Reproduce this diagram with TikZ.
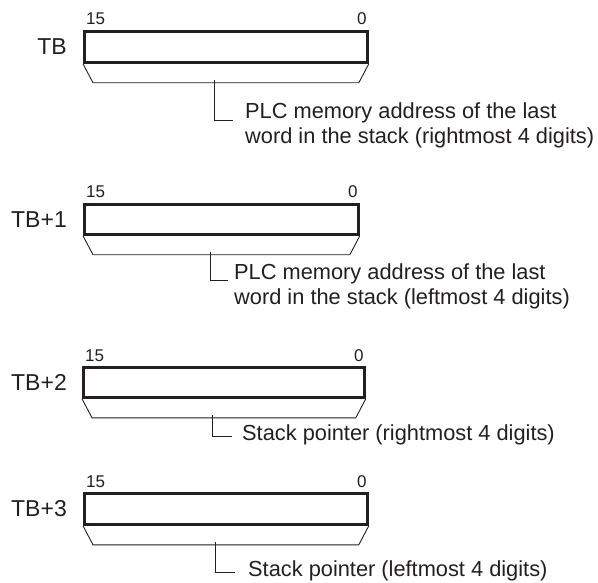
\documentclass[tikz,border=0pt]{standalone}
\usepackage{fontspec}
\setmainfont{Liberation Sans}
\usetikzlibrary{positioning}
\definecolor{ink}{HTML}{231F20}
\begin{document}
\begin{tikzpicture}[x=1pt, y=-1pt,
    reg/.style={draw=ink, line width=2.8pt, anchor=north west, inner sep=0pt},
    fan/.style={draw=ink, line width=0.9pt, line join=miter},
    lead/.style={draw=ink, line width=0.9pt},
    bit/.style={text=ink, font={\fontsize{17}{17}\selectfont}, inner sep=0pt},
    tag/.style={text=ink, font={\fontsize{23}{23}\selectfont}, inner sep=0pt},
    note/.style={text=ink, font={\fontsize{21.8}{25}\selectfont}, align=left, inner sep=0pt, anchor=north west}
]
    \useasboundingbox (0,0) rectangle (598,583);
    % TB: last word address, rightmost digits
    \node[reg, minimum width=283pt, minimum height=31pt] (r1) at (83,30) {};
    \node[tag, left=16pt of r1] (l1) {TB};
    \node[bit, anchor=base west] (h1) at ([xshift=3pt, yshift=5pt]r1.north west) {15};
    \node[bit, anchor=base east] (z1) at ([xshift=-2pt, yshift=5pt]r1.north east) {0};
    \draw[fan] (r1.south west) -- ++(10,19) -- ([shift={(-10,19)}]r1.south east) -- (r1.south east);
    \coordinate (s1) at (214,80);
    \coordinate (k1) at (233,120);
    \draw[lead] (s1) |- (k1);
    \node[note] (n1) at (245,103) {PLC memory address of the last\\word in the stack (rightmost 4 digits)};
    % TB+1: last word address, leftmost digits
    \node[reg, minimum width=274pt, minimum height=30pt] (r2) at (83,203) {};
    \node[tag, left=16pt of r2] (l2) {TB+1};
    \node[bit, anchor=base west] (h2) at ([xshift=3pt, yshift=5pt]r2.north west) {15};
    \node[bit, anchor=base east] (z2) at ([xshift=-2pt, yshift=5pt]r2.north east) {0};
    \draw[fan] (r2.south west) -- ++(10,19) -- ([shift={(-10,19)}]r2.south east) -- (r2.south east);
    \coordinate (s2) at (210,252);
    \coordinate (k2) at (228,280);
    \draw[lead] (s2) |- (k2);
    \node[note] (n2) at (234,264) {PLC memory address of the last\\word in the stack (leftmost 4 digits)};
    % TB+2: stack pointer, rightmost digits
    \node[reg, minimum width=281pt, minimum height=30pt] (r3) at (82,366) {};
    \node[tag, left=15pt of r3] (l3) {TB+2};
    \node[bit, anchor=base west] (h3) at ([xshift=3pt, yshift=5pt]r3.north west) {15};
    \node[bit, anchor=base east] (z3) at ([xshift=-2pt, yshift=5pt]r3.north east) {0};
    \draw[fan] (r3.south west) -- ++(10,19) -- ([shift={(-10,19)}]r3.south east) -- (r3.south east);
    \coordinate (s3) at (212,415);
    \coordinate (k3) at (232,436);
    \draw[lead] (s3) |- (k3);
    \node[note] (n3) at (242,425) {Stack pointer (rightmost 4 digits)};
    % TB+3: stack pointer, leftmost digits
    \node[reg, minimum width=283pt, minimum height=31pt] (r4) at (83,492) {};
    \node[tag, left=16pt of r4] (l4) {TB+3};
    \node[bit, anchor=base west] (h4) at ([xshift=3pt, yshift=5pt]r4.north west) {15};
    \node[bit, anchor=base east] (z4) at ([xshift=-2pt, yshift=5pt]r4.north east) {0};
    \draw[fan] (r4.south west) -- ++(10,19) -- ([shift={(-10,19)}]r4.south east) -- (r4.south east);
    \coordinate (s4) at (215,542);
    \coordinate (k4) at (235,572);
    \draw[lead] (s4) |- (k4);
    \node[note] (n4) at (248,561) {Stack pointer (leftmost 4 digits)};
\end{tikzpicture}
\end{document}
